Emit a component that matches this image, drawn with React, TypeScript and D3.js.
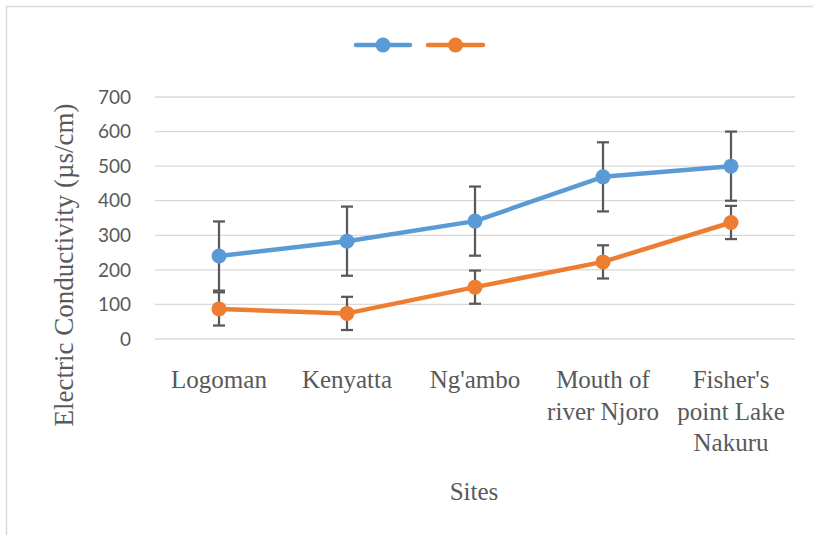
import React from "react";
import * as d3 from "d3";

const categories: string[][] = [
  ["Logoman"],
  ["Kenyatta"],
  ["Ng'ambo"],
  ["Mouth of", "river Njoro"],
  ["Fisher's", "point Lake", "Nakuru"],
];
const categoryKeys = ["Logoman", "Kenyatta", "Ng'ambo", "Mouth of river Njoro", "Fisher's point Lake Nakuru"];
const seriesBlue = [240, 283, 341, 469, 500];
const errorBlue = [100, 100, 100, 100, 100];
const seriesOrange = [87, 74, 150, 223, 337];
const errorOrange = [48, 48, 48, 48, 48];
const yTicks = [0, 100, 200, 300, 400, 500, 600, 700];
const yTitle = "Electric Conductivity (µs/cm)";
const xTitle = "Sites";

const BLUE = "#5B9BD5";
const ORANGE = "#ED7D31";
const TEXT = "#595959";

export default function App() {
  const W = 813;
  const H = 535;
  const x = d3.scaleBand<string>().domain(categoryKeys).range([155, 795]).padding(0);
  const cx = (k: string) => (x(k) as number) + x.bandwidth() / 2;
  const y = d3.scaleLinear().domain([0, 700]).range([339, 97]);
  const line = d3
    .line<number>()
    .x((_, i) => cx(categoryKeys[i]))
    .y((d) => y(d));

  const series = [
    { values: seriesBlue, errors: errorBlue, color: BLUE },
    { values: seriesOrange, errors: errorOrange, color: ORANGE },
  ];

  const legend = [
    { color: BLUE, x0: 356, x1: 410 },
    { color: ORANGE, x0: 428, x1: 483 },
  ];

  return (
    <div style={{ position: "fixed", left: 0, top: 0, width: W, height: H, background: "#fff" }}>
      <svg width={W} height={H} style={{ display: "block" }}>
        <rect x={0} y={0} width={W} height={H} fill="#fff" />
        <rect x={6.5} y={6.5} width={W + 50} height={H + 50} fill="none" stroke="#d9d9d9" strokeWidth={1.5} />
        {/* gridlines */}
        {yTicks.map((t) => (
          <line key={t} x1={155} x2={795} y1={y(t)} y2={y(t)} stroke="#d9d9d9" strokeWidth={1.3} />
        ))}
        {/* y tick labels */}
        {yTicks.map((t) => (
          <text
            key={"l" + t}
            x={131}
            y={y(t)}
            dy="0.35em"
            textAnchor="end"
            fontFamily="Lato, 'Open Sans', sans-serif"
            fontSize={19}
            fill={TEXT}
          >
            {t}
          </text>
        ))}
        {/* category labels */}
        {categories.map((lines, i) => (
          <text
            key={"c" + i}
            textAnchor="middle"
            fontFamily="'Liberation Serif', 'Times New Roman', serif"
            fontSize={25}
            fill={TEXT}
          >
            {lines.map((ln, j) => (
              <tspan key={j} x={cx(categoryKeys[i])} y={388 + j * 31.5}>
                {ln}
              </tspan>
            ))}
          </text>
        ))}
        {/* axis titles */}
        <text
          transform={`translate(73, 265) rotate(-90)`}
          textAnchor="middle"
          fontFamily="'Liberation Serif', 'Times New Roman', serif"
          fontSize={27}
          fill={TEXT}
        >
          {yTitle}
        </text>
        <text
          x={474}
          y={500}
          textAnchor="middle"
          fontFamily="'Liberation Serif', 'Times New Roman', serif"
          fontSize={25}
          fill={TEXT}
        >
          {xTitle}
        </text>
        {/* series */}
        {series.map((s, si) => (
          <g key={"s" + si}>
            {s.values.map((v, i) => {
              const px = cx(categoryKeys[i]);
              const top = y(v + s.errors[i]);
              const bot = y(v - s.errors[i]);
              return (
                <g key={i} stroke={TEXT} strokeWidth={2.25}>
                  <line x1={px} x2={px} y1={top} y2={bot} />
                  <line x1={px - 6} x2={px + 6} y1={top} y2={top} />
                  <line x1={px - 6} x2={px + 6} y1={bot} y2={bot} />
                </g>
              );
            })}
            <path d={line(s.values) || ""} fill="none" stroke={s.color} strokeWidth={4.5} strokeLinejoin="round" strokeLinecap="round" />
            {s.values.map((v, i) => (
              <circle key={"m" + i} cx={cx(categoryKeys[i])} cy={y(v)} r={7.5} fill={s.color} />
            ))}
          </g>
        ))}
        {/* legend */}
        {legend.map((l, i) => (
          <g key={"lg" + i}>
            <line x1={l.x0} x2={l.x1} y1={45} y2={45} stroke={l.color} strokeWidth={4.5} strokeLinecap="round" />
            <circle cx={(l.x0 + l.x1) / 2} cy={45} r={7.5} fill={l.color} />
          </g>
        ))}
      </svg>
    </div>
  );
}
